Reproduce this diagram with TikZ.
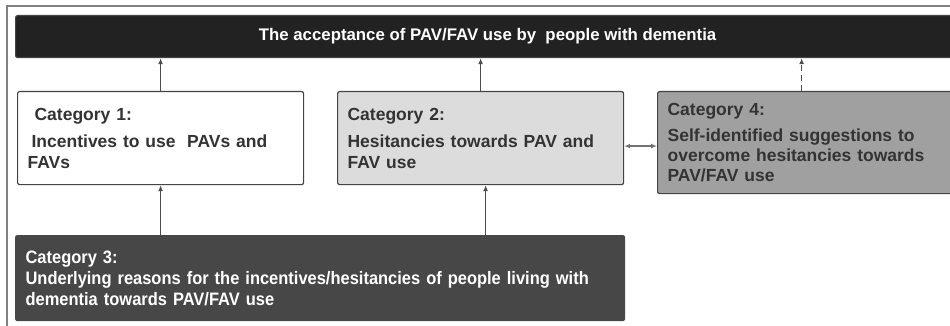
\documentclass[tikz,border=0pt]{standalone}
\usepackage{fontspec}
\setmainfont{Liberation Sans}
\newfontfamily\narrowsans[FakeStretch=0.915]{Liberation Sans}
\usetikzlibrary{arrows.meta}
\definecolor{barblack}{HTML}{222222}
\definecolor{catlight}{HTML}{DCDCDC}
\definecolor{catmid}{HTML}{A0A0A0}
\definecolor{catdark}{HTML}{474747}
\definecolor{edgegray}{HTML}{444444}
\definecolor{inkgray}{HTML}{333333}

\begin{document}
\begin{tikzpicture}[x=1pt,y=-1pt,
		catbox/.style={draw=edgegray, line width=1.2pt, rounded corners=2pt, anchor=north west,
			inner sep=0pt, align=left, font=\bfseries, text=inkgray},
		link/.style={draw=black!70, line width=1.5pt, -{Latex[length=6pt,width=5pt]}}]
		%%%%% START %%%%%
		
		\clip (0, 0) rectangle (950, 326);
		\draw[line width=1.6pt, color=black!50] (7, 6) rectangle (970, 340);
		
		\node[catbox, fill=barblack, text=white, font=\bfseries\fontsize{16.8}{19}\selectfont,
			minimum width=944, minimum height=42] (bar) at (15, 15)
			{The acceptance of PAV/FAV use by \ people with dementia};
		
		\node[catbox, fill=white, minimum width=286, minimum height=93, text width=266,
			font=\bfseries\fontsize{17.5}{21}\selectfont] (cat1) at (17, 91)
			{\hspace*{7pt}Category 1:\\[6pt]\hspace*{4pt}Incentives to use \ PAVs and\\FAVs};
		
		\node[catbox, fill=catlight, minimum width=286, minimum height=93, text width=266,
			font=\bfseries\fontsize{17.5}{21}\selectfont] (cat2) at (337, 91)
			{Category 2:\\[6pt]Hesitancies towards PAV and\\FAV use};
		
		\node[catbox, fill=catmid, minimum width=300, minimum height=102, text width=280,
			font=\bfseries\fontsize{17.5}{20}\selectfont] (cat4) at (657, 91)
			{Category 4:\\[6pt]Self-identified suggestions to\\overcome hesitancies towards\\PAV/FAV use};
		
		\node[catbox, fill=catdark, draw=catdark, text=white, minimum width=609, minimum height=85,
			text width=589, font=\narrowsans\bfseries\fontsize{18}{21}\selectfont] (cat3) at (15, 235)
			{Category 3:\\Underlying reasons for the incentives/hesitancies of people living with\\dementia towards PAV/FAV use};
		
		\draw[link] (cat1.north) -- (cat1.north |- bar.south);
		\draw[link] (cat2.north) -- (cat2.north |- bar.south);
		\draw[link, dash pattern=on 6pt off 4pt, line width=1.2pt] ([xshift=-6]cat4.north) -- ([xshift=-6]cat4.north |- bar.south);
		
		\draw[link, {Latex[length=6pt,width=5pt]}-{Latex[length=6pt,width=5pt]}, draw=black!55]
			([yshift=-8]cat2.east) -- ([yshift=-8]cat2.east -| cat4.west);
		
		\draw[link] (cat3.north -| cat1.south) -- (cat1.south);
		\draw[link] ([xshift=5]cat3.north -| cat2.south) -- ([xshift=5]cat2.south);
		
		%%%%% END %%%%%
	\end{tikzpicture}
\end{document}
